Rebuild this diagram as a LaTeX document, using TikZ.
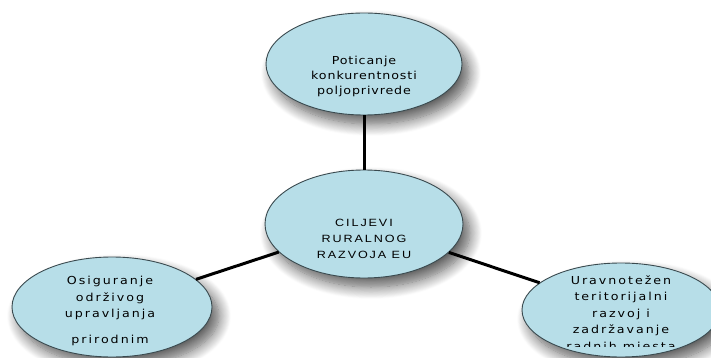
\documentclass[tikz,border=0pt]{standalone}
\usepackage{fontspec}
\usepackage{tikz}
\usetikzlibrary{shapes.geometric}
\usetikzlibrary{shadows.blur}
\newfontfamily\topfont[FakeStretch=1.15,LetterSpace=8]{DejaVu Sans}
\newfontfamily\sidefont[FakeStretch=1.15,LetterSpace=18]{DejaVu Sans}
\newfontfamily\corefont[FakeStretch=1.2,LetterSpace=18]{Liberation Sans}
\definecolor{bubblefill}{HTML}{B7DEE8}
\definecolor{bubbleedge}{HTML}{3A4A4F}
\tikzset{
  %bubble/.style={ellipse,draw,fill=cyan!20},
  bubble/.style={ellipse,draw=bubbleedge,line width=0.9pt,fill=bubblefill,inner sep=0pt,
    blur shadow={shadow xshift=7pt,shadow yshift=-9pt,shadow blur radius=12pt,
      shadow blur steps=14,shadow opacity=65}},
  toptext/.style={align=center,font=\topfont\fontsize{11}{15}\selectfont},
  sidetext/.style={align=center,font=\sidefont\fontsize{11}{16.5}\selectfont},
  coretext/.style={align=center,font=\corefont\fontsize{10.5}{16}\selectfont},
  wire/.style={draw=black,line width=3pt}
}

\begin{document}
\begin{tikzpicture}[x=1pt,y=1pt]
  \useasboundingbox (0,0) rectangle (711,-358);
  \clip (0,0) rectangle (711,-358);
  \node (Gt) at (364,-64) [bubble,minimum width=196,minimum height=102] {};
  \node (Gc) at (364,-224) [bubble,minimum width=198,minimum height=108] {};
  \node (Gl) at (112,-307) [bubble,minimum width=200,minimum height=100] {};
  \node (Gr) at (621,-310) [bubble,minimum width=198,minimum height=94] {};
  \draw (Gt) -- (Gc) [wire];
  \draw (Gl) -- (Gc) [wire];
  \draw (Gc) -- (Gr) [wire];
  \node (Tt) at (364,-76) [toptext] {Poticanje\\konkurentnosti\\poljoprivrede};
  \node (Tc) at (364,-239) [coretext] {CILJEVI\\RURALNOG\\RAZVOJA EU};
  \node (Tl) at (110,-311) [sidetext] {Osiguranje\\održivog\\upravljanja\\[9pt]prirodnim};
  \begin{scope}
    \clip (510,-255) rectangle (711,-346);
    \node (Tr) at (621,-314) [sidetext] {Uravnotežen\\teritorijalni\\razvoj i\\zadržavanje\\radnih mjesta};
  \end{scope}
\end{tikzpicture}
\end{document}
